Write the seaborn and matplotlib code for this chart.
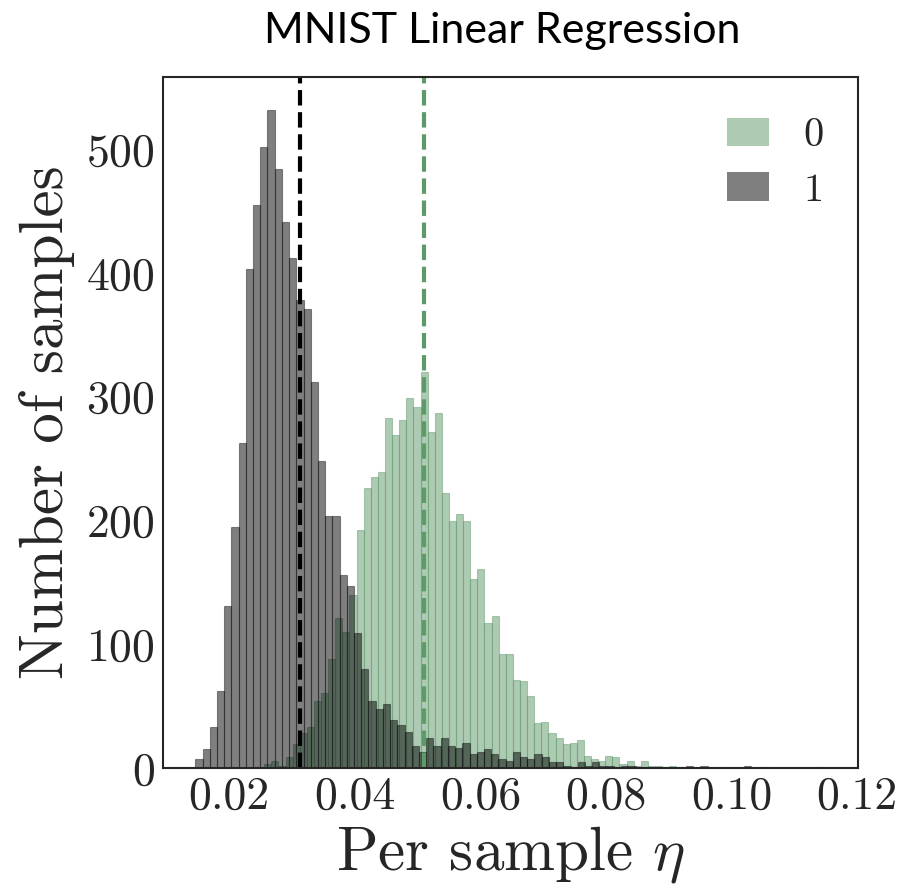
import numpy as np
import pandas as pd
import matplotlib
matplotlib.use('Agg')
import matplotlib.pyplot as plt
import seaborn as sns

# ── Data ───────────────────────────────────────────────────────────────────────
# digit "0": per-bin counts, left edge of first bin and bin width
ZERO_START = 0.02557
ZERO_WIDTH = 0.001131
zero_counts = [3, 6, 2, 9, 19, 28, 33, 54, 61, 88,
               121, 110, 140, 192, 226, 235, 239, 283, 269, 281,
               299, 292, 320, 272, 287, 222, 200, 205, 200, 153,
               161, 117, 123, 92, 92, 71, 70, 58, 36, 37,
               28, 24, 19, 20, 23, 10, 7, 6, 10, 9,
               3, 6, 2, 6, 2, 2, 1, 2]

# digit "1"
ONE_START = 0.01459
ONE_WIDTH = 0.001149
one_counts = [7, 15, 33, 62, 131, 195, 263, 403, 455, 502,
              532, 484, 441, 412, 378, 371, 312, 248, 204, 204,
              156, 147, 109, 80, 54, 48, 52, 39, 35, 29,
              18, 13, 24, 18, 24, 18, 16, 20, 11, 13,
              15, 11, 7, 6, 13, 9, 7, 11, 9, 5,
              5, 2, 1, 5, 2, 5, 2, 2, 1, 2,
              2, 1, 1, 0, 1, 1, 0, 1, 2, 0,
              2, 1, 0, 1, 0, 0, 2, 0, 1, 1,
              0, 0, 0, 0, 0, 0, 1]

# mean eta per class (dashed lines)
zero_mean = 0.0510
one_mean = 0.0312

GREEN = '#5d9969'

# ── Style ─────────────────────────────────────────────────────────────────────
sns.set_style('white')
plt.rcParams['font.family'] = 'serif'
plt.rcParams['font.serif'] = ['cmr10']
plt.rcParams['mathtext.fontset'] = 'cm'
plt.rcParams['axes.formatter.use_mathtext'] = True
plt.rcParams['axes.unicode_minus'] = False


def binned(start, width, counts):
    n = len(counts)
    centers = start + width * (np.arange(n) + 0.5)
    df = pd.DataFrame({'eta': centers, 'n': counts})
    return df, (start, start + width * n)


fig = plt.figure(figsize=(9.11, 8.88), dpi=100)
ax = fig.add_axes([163 / 911, 1 - 768 / 888, (858 - 163) / 911, (768 - 77) / 888])

df0, rng0 = binned(ZERO_START, ZERO_WIDTH, zero_counts)
df1, rng1 = binned(ONE_START, ONE_WIDTH, one_counts)

sns.histplot(data=df0, x='eta', weights='n', binwidth=ZERO_WIDTH, binrange=rng0,
             color=GREEN, alpha=0.5, edgecolor=(0.365, 0.6, 0.41, 0.45),
             linewidth=0.8, ax=ax, label='0')
sns.histplot(data=df1, x='eta', weights='n', binwidth=ONE_WIDTH, binrange=rng1,
             color='black', alpha=0.5, edgecolor=(0, 0, 0, 0.4),
             linewidth=0.8, ax=ax, label='1')

ax.axvline(one_mean, color='black', ls='--', lw=3)
ax.axvline(zero_mean, color=GREEN, ls='--', lw=3)

ax.set_xlim(0.00945, 0.1201)
ax.set_xticks([0.02, 0.04, 0.06, 0.08, 0.10, 0.12])
ax.set_xticklabels(['0.02', '0.04', '0.06', '0.08', '0.10', '0.12'])
ax.set_yticks([0, 100, 200, 300, 400, 500])
ax.tick_params(axis='both', labelsize=33, pad=6, length=0)

for s in ax.spines.values():
    s.set_color('#262626')
    s.set_linewidth(1.5)

ax.set_xlabel(r'Per sample $\eta$', fontsize=44, labelpad=4)
ax.set_ylabel('Number of samples', fontsize=44, labelpad=8)

leg = ax.legend(loc='upper right', bbox_to_anchor=(1.0, 0.99), frameon=False,
                fontsize=29, handlelength=1.05, handleheight=0.7,
                handletextpad=0.85, borderaxespad=0.45, labelspacing=0.45)
for h in leg.legend_handles:
    h.set_edgecolor('none')

fig.text(502 / 911, 1 - 43 / 888, 'MNIST Linear Regression', family='Lato',
         fontsize=31, color='black', ha='center', va='baseline')

fig.savefig('out.png', dpi=100)
